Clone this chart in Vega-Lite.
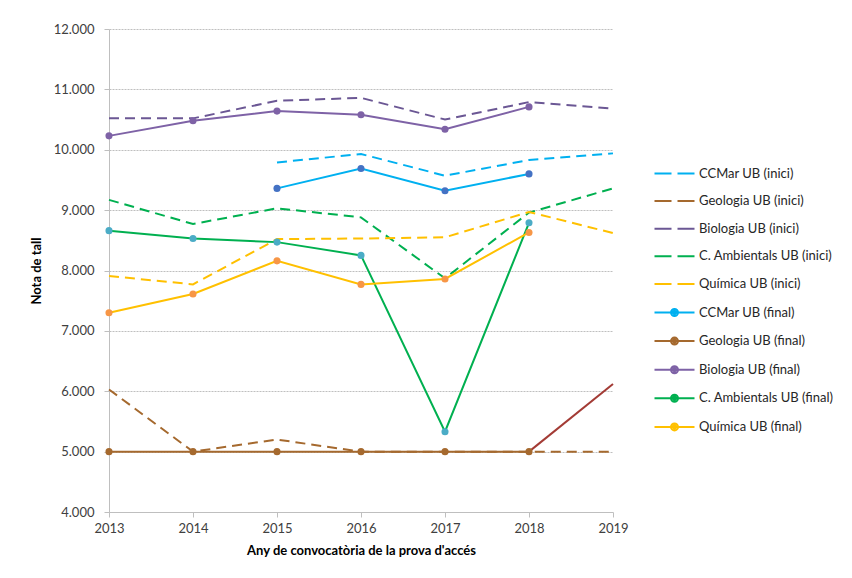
{
  "$schema": "https://vega.github.io/schema/vega-lite/v6.json",
  "width": 504,
  "height": 483,
  "autosize": {"type": "none"},
  "padding": {"left": 109, "top": 29, "right": 239, "bottom": 66},
  "background": "white",
  "config": {
    "font": "Lato",
    "view": {"stroke": null},
    "axis": {"labelFont": "Lato", "labelFontSize": 13, "labelColor": "#404040", "titleFont": "Lato", "titleFontSize": 13, "titleFontWeight": "bold", "titleColor": "#000000", "domainColor": "#BFBFBF", "tickColor": "#BFBFBF", "tickSize": 5, "labelFlush": false},
    "legend": {"labelFont": "Lato", "labelFontSize": 13, "labelColor": "#262626", "padding": 0}
  },
  "data": {
    "values": [
      {"any": 2015, "serie": "CCMar UB (inici)", "tipus": "inici", "nota": 9.79},
      {"any": 2016, "serie": "CCMar UB (inici)", "tipus": "inici", "nota": 9.93},
      {"any": 2017, "serie": "CCMar UB (inici)", "tipus": "inici", "nota": 9.57},
      {"any": 2018, "serie": "CCMar UB (inici)", "tipus": "inici", "nota": 9.83},
      {"any": 2019, "serie": "CCMar UB (inici)", "tipus": "inici", "nota": 9.94},
      {"any": 2013, "serie": "Geologia UB (inici)", "tipus": "inici", "nota": 6.03},
      {"any": 2014, "serie": "Geologia UB (inici)", "tipus": "inici", "nota": 5.0},
      {"any": 2015, "serie": "Geologia UB (inici)", "tipus": "inici", "nota": 5.2},
      {"any": 2016, "serie": "Geologia UB (inici)", "tipus": "inici", "nota": 5.0},
      {"any": 2017, "serie": "Geologia UB (inici)", "tipus": "inici", "nota": 5.0},
      {"any": 2018, "serie": "Geologia UB (inici)", "tipus": "inici", "nota": 5.0},
      {"any": 2019, "serie": "Geologia UB (inici)", "tipus": "inici", "nota": 5.0},
      {"any": 2013, "serie": "Biologia UB (inici)", "tipus": "inici", "nota": 10.52},
      {"any": 2014, "serie": "Biologia UB (inici)", "tipus": "inici", "nota": 10.52},
      {"any": 2015, "serie": "Biologia UB (inici)", "tipus": "inici", "nota": 10.81},
      {"any": 2016, "serie": "Biologia UB (inici)", "tipus": "inici", "nota": 10.86},
      {"any": 2017, "serie": "Biologia UB (inici)", "tipus": "inici", "nota": 10.5},
      {"any": 2018, "serie": "Biologia UB (inici)", "tipus": "inici", "nota": 10.79},
      {"any": 2019, "serie": "Biologia UB (inici)", "tipus": "inici", "nota": 10.68},
      {"any": 2013, "serie": "C. Ambientals UB (inici)", "tipus": "inici", "nota": 9.17},
      {"any": 2014, "serie": "C. Ambientals UB (inici)", "tipus": "inici", "nota": 8.77},
      {"any": 2015, "serie": "C. Ambientals UB (inici)", "tipus": "inici", "nota": 9.03},
      {"any": 2016, "serie": "C. Ambientals UB (inici)", "tipus": "inici", "nota": 8.88},
      {"any": 2017, "serie": "C. Ambientals UB (inici)", "tipus": "inici", "nota": 7.87},
      {"any": 2018, "serie": "C. Ambientals UB (inici)", "tipus": "inici", "nota": 8.96},
      {"any": 2019, "serie": "C. Ambientals UB (inici)", "tipus": "inici", "nota": 9.36},
      {"any": 2013, "serie": "Química UB (inici)", "tipus": "inici", "nota": 7.91},
      {"any": 2014, "serie": "Química UB (inici)", "tipus": "inici", "nota": 7.77},
      {"any": 2015, "serie": "Química UB (inici)", "tipus": "inici", "nota": 8.52},
      {"any": 2016, "serie": "Química UB (inici)", "tipus": "inici", "nota": 8.53},
      {"any": 2017, "serie": "Química UB (inici)", "tipus": "inici", "nota": 8.55},
      {"any": 2018, "serie": "Química UB (inici)", "tipus": "inici", "nota": 8.97},
      {"any": 2019, "serie": "Química UB (inici)", "tipus": "inici", "nota": 8.62},
      {"any": 2015, "serie": "CCMar UB (final)", "tipus": "final", "nota": 9.36},
      {"any": 2016, "serie": "CCMar UB (final)", "tipus": "final", "nota": 9.69},
      {"any": 2017, "serie": "CCMar UB (final)", "tipus": "final", "nota": 9.32},
      {"any": 2018, "serie": "CCMar UB (final)", "tipus": "final", "nota": 9.6},
      {"any": 2013, "serie": "Geologia UB (final)", "tipus": "final", "nota": 5.0},
      {"any": 2014, "serie": "Geologia UB (final)", "tipus": "final", "nota": 5.0},
      {"any": 2015, "serie": "Geologia UB (final)", "tipus": "final", "nota": 5.0},
      {"any": 2016, "serie": "Geologia UB (final)", "tipus": "final", "nota": 5.0},
      {"any": 2017, "serie": "Geologia UB (final)", "tipus": "final", "nota": 5.0},
      {"any": 2018, "serie": "Geologia UB (final)", "tipus": "final", "nota": 5.0},
      {"any": 2013, "serie": "Biologia UB (final)", "tipus": "final", "nota": 10.23},
      {"any": 2014, "serie": "Biologia UB (final)", "tipus": "final", "nota": 10.48},
      {"any": 2015, "serie": "Biologia UB (final)", "tipus": "final", "nota": 10.64},
      {"any": 2016, "serie": "Biologia UB (final)", "tipus": "final", "nota": 10.58},
      {"any": 2017, "serie": "Biologia UB (final)", "tipus": "final", "nota": 10.34},
      {"any": 2018, "serie": "Biologia UB (final)", "tipus": "final", "nota": 10.71},
      {"any": 2013, "serie": "C. Ambientals UB (final)", "tipus": "final", "nota": 8.66},
      {"any": 2014, "serie": "C. Ambientals UB (final)", "tipus": "final", "nota": 8.53},
      {"any": 2015, "serie": "C. Ambientals UB (final)", "tipus": "final", "nota": 8.47},
      {"any": 2016, "serie": "C. Ambientals UB (final)", "tipus": "final", "nota": 8.25},
      {"any": 2017, "serie": "C. Ambientals UB (final)", "tipus": "final", "nota": 5.33},
      {"any": 2018, "serie": "C. Ambientals UB (final)", "tipus": "final", "nota": 8.79},
      {"any": 2013, "serie": "Química UB (final)", "tipus": "final", "nota": 7.3},
      {"any": 2014, "serie": "Química UB (final)", "tipus": "final", "nota": 7.61},
      {"any": 2015, "serie": "Química UB (final)", "tipus": "final", "nota": 8.16},
      {"any": 2016, "serie": "Química UB (final)", "tipus": "final", "nota": 7.77},
      {"any": 2017, "serie": "Química UB (final)", "tipus": "final", "nota": 7.86},
      {"any": 2018, "serie": "Química UB (final)", "tipus": "final", "nota": 8.63},
      {"any": 2018, "serie": "Geologia UB (2019)", "tipus": "extra", "nota": 5.0},
      {"any": 2019, "serie": "Geologia UB (2019)", "tipus": "extra", "nota": 6.12}
    ]
  },
  "encoding": {
    "x": {"field": "any", "type": "quantitative", "scale": {"domain": [2013, 2019], "nice": false, "zero": false},
      "axis": {"values": [2013, 2014, 2015, 2016, 2017, 2018, 2019], "format": "d", "grid": false, "labelPadding": 5, "title": "Any de convocatòria de la prova d'accés", "titlePadding": 9}},
    "y": {"field": "nota", "type": "quantitative", "scale": {"domain": [4, 12], "nice": false, "zero": false},
      "axis": {"values": [4, 5, 6, 7, 8, 9, 10, 11, 12], "labelExpr": "format(datum.value, '.3f')", "grid": true, "gridColor": "#BFBFBF", "gridDash": [2, 1], "labelPadding": 10, "title": "Nota de tall", "titlePadding": 10}}
  },
  "layer": [
    {
      "transform": [{"filter": "datum.tipus == 'inici'"}],
      "mark": {"type": "line", "strokeWidth": 2, "strokeDash": [10, 6]},
      "encoding": {
        "color": {"field": "serie", "type": "nominal", "legend": null,
          "scale": {
            "domain": ["CCMar UB (inici)", "Geologia UB (inici)", "Biologia UB (inici)", "C. Ambientals UB (inici)", "Química UB (inici)", "CCMar UB (final)", "Geologia UB (final)", "Biologia UB (final)", "C. Ambientals UB (final)", "Química UB (final)", "Geologia UB (2019)"],
            "range": ["#00B0F0", "#A5692E", "#6B5794", "#00B050", "#FFC000", "#00B0F0", "#A5692E", "#7E62A6", "#00B050", "#FFC000", "#A33B35"]
          }},
        "detail": {"field": "serie"}
      }
    },
    {
      "transform": [{"filter": "datum.tipus != 'inici'"}],
      "mark": {"type": "line", "strokeWidth": 2},
      "encoding": {
        "color": {"field": "serie", "type": "nominal", "legend": null},
        "detail": {"field": "serie"}
      }
    },
    {
      "transform": [{"filter": "datum.tipus == 'final'"}],
      "mark": {"type": "point", "filled": true, "size": 50, "opacity": 1},
      "encoding": {
        "fill": {"field": "serie", "type": "nominal", "legend": null,
          "scale": {
            "domain": ["CCMar UB (inici)", "Geologia UB (inici)", "Biologia UB (inici)", "C. Ambientals UB (inici)", "Química UB (inici)", "CCMar UB (final)", "Geologia UB (final)", "Biologia UB (final)", "C. Ambientals UB (final)", "Química UB (final)", "Geologia UB (2019)"],
            "range": ["#00B0F0", "#A5692E", "#6B5794", "#00B050", "#FFC000", "#4472C4", "#A5692E", "#7E62A6", "#4BACC6", "#F79646", "#A33B35"]
          }}
      }
    },
    {
      "transform": [{"filter": "datum.tipus != 'extra'"}],
      "mark": {"type": "point", "filled": false, "opacity": 0},
      "encoding": {
        "shape": {"field": "serie", "type": "nominal",
          "scale": {
            "domain": ["CCMar UB (inici)", "Geologia UB (inici)", "Biologia UB (inici)", "C. Ambientals UB (inici)", "Química UB (inici)", "CCMar UB (final)", "Geologia UB (final)", "Biologia UB (final)", "C. Ambientals UB (final)", "Química UB (final)"],
            "range": ["M-4,0H-0.6M0.6,0H4", "M-4,0H-0.6M0.6,0H4", "M-4,0H-0.6M0.6,0H4", "M-4,0H-0.6M0.6,0H4", "M-4,0H-0.6M0.6,0H4",
              "M-4,0H4M0.7,0A0.7,0.7 0 1,1 -0.7,0A0.7,0.7 0 1,1 0.7,0M0.3,0A0.3,0.3 0 1,1 -0.3,0A0.3,0.3 0 1,1 0.3,0",
              "M-4,0H4M0.7,0A0.7,0.7 0 1,1 -0.7,0A0.7,0.7 0 1,1 0.7,0M0.3,0A0.3,0.3 0 1,1 -0.3,0A0.3,0.3 0 1,1 0.3,0",
              "M-4,0H4M0.7,0A0.7,0.7 0 1,1 -0.7,0A0.7,0.7 0 1,1 0.7,0M0.3,0A0.3,0.3 0 1,1 -0.3,0A0.3,0.3 0 1,1 0.3,0",
              "M-4,0H4M0.7,0A0.7,0.7 0 1,1 -0.7,0A0.7,0.7 0 1,1 0.7,0M0.3,0A0.3,0.3 0 1,1 -0.3,0A0.3,0.3 0 1,1 0.3,0",
              "M-4,0H4M0.7,0A0.7,0.7 0 1,1 -0.7,0A0.7,0.7 0 1,1 0.7,0M0.3,0A0.3,0.3 0 1,1 -0.3,0A0.3,0.3 0 1,1 0.3,0"]
          },
          "legend": {
            "title": null, "orient": "none", "legendX": 559, "legendY": 138,
            "values": ["CCMar UB (inici)", "Geologia UB (inici)", "Biologia UB (inici)", "C. Ambientals UB (inici)", "Química UB (inici)", "CCMar UB (final)", "Geologia UB (final)", "Biologia UB (final)", "C. Ambientals UB (final)", "Química UB (final)"],
            "symbolSize": 100, "symbolStrokeWidth": 2, "rowPadding": 13.6, "labelOffset": 18,
            "symbolOpacity": 1,
            "symbolStrokeColor": {"expr": "scale('color', datum.value)"}
          }}
      }
    }
  ]
}
